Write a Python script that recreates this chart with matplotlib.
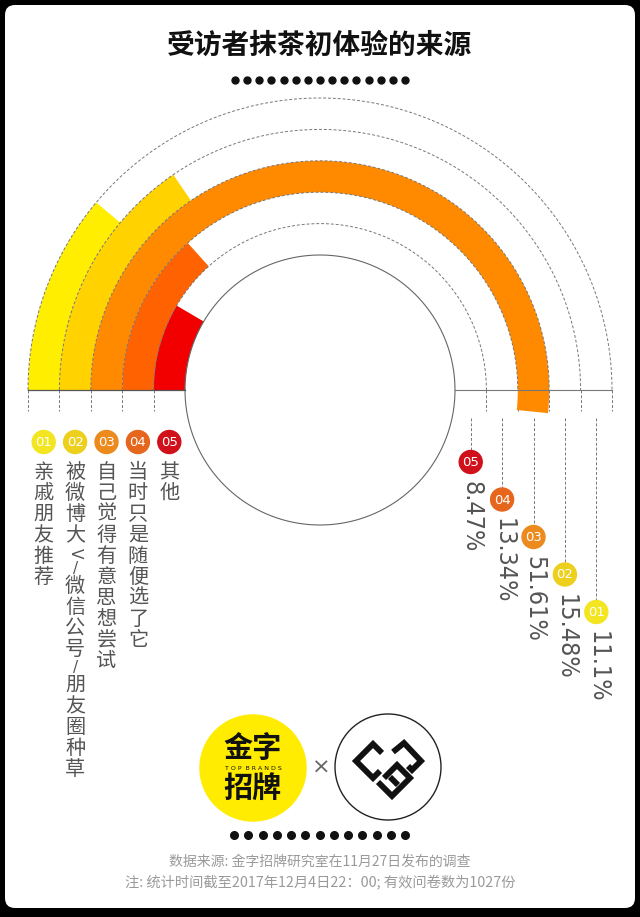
import numpy as np
import matplotlib
matplotlib.use("Agg")
import matplotlib.pyplot as plt
from matplotlib.patches import FancyBboxPatch, Circle
from matplotlib import font_manager as fm

plt.rcParams['font.family'] = ['Noto Sans CJK SC', 'DejaVu Sans']

# ---------------- data ----------------
codes = ["01", "02", "03", "04", "05"]
categories = ["亲戚朋友推荐", "被微博大V/微信公号/朋友圈种草", "自己觉得有意思想尝试",
              "当时只是随便选了它", "其他"]
values = [11.1, 15.48, 51.61, 13.34, 8.47]
value_labels = ["11.1%", "15.48%", "51.61%", "13.34%", "8.47%"]
bar_colors = ["#FFEE00", "#FFD200", "#FF8A00", "#FF6200", "#F20000"]
badge_colors = ["#F3E520", "#EDCF1E", "#EC8A1E", "#E6661E", "#D0101A"]

title = "受访者抹茶初体验的来源"
source1 = "数据来源: 金字招牌研究室在11月27日发布的调查"
source2 = "注: 统计时间截至2017年12月4日22：00; 有效问卷数为1027份"

# ---------------- narrow font for the percentages ----------------
fonts = fm.fontManager.ttflist
names = {f.name for f in fonts}
pct_kw = dict(family=['Liberation Sans', 'DejaVu Sans'], fontsize=17)
if 'Liberation Sans Narrow' in names:
    pct_kw = dict(family=['Liberation Sans Narrow', 'DejaVu Sans'], fontsize=19)
elif any(f.name == 'DejaVu Sans' and str(f.stretch) in ('condensed', 'semi-condensed', '600', '700', '500')
         for f in fonts):
    pct_kw = dict(family=['DejaVu Sans'], fontstretch='condensed', fontsize=18)

# ---------------- layout (pixels) ----------------
W, H = 640, 917
cx, cy = 320, 390
r_inner = 135
ring_w = 31.4
RMAX = 300

fig = plt.figure(figsize=(W / 100, H / 100), dpi=100, facecolor='black')

ov = fig.add_axes([0, 0, 1, 1], zorder=0)
ov.set_xlim(0, W)
ov.set_ylim(H, 0)
ov.axis('off')
ov.patch.set_alpha(0)

ov.add_patch(FancyBboxPatch((5, 5), 630, 903, boxstyle="round,pad=0,rounding_size=10",
                            facecolor='white', edgecolor='none', zorder=0))

pax = fig.add_axes([(cx - RMAX) / W, (H - cy - RMAX) / H, 2 * RMAX / W, 2 * RMAX / H],
                   projection='polar', zorder=1)
pax.set_facecolor('none')
pax.set_theta_zero_location('W')
pax.set_theta_direction(-1)
pax.set_ylim(0, RMAX)
pax.axis('off')

n = len(values)
r_bottoms = [r_inner + (n - 1 - i) * ring_w for i in range(n)]
for i in range(n):
    pax.bar(0, ring_w, width=values[i] / 100 * 2 * np.pi, bottom=r_bottoms[i],
            align='edge', color=bar_colors[i], edgecolor='none', zorder=2)

bounds = [r_inner + k * ring_w for k in range(1, n + 1)]
th = np.linspace(0, np.pi, 500)
for r in bounds:
    pax.plot(th, np.full_like(th, r), ls=(0, (3, 2)), color='#777777', lw=0.7, zorder=3)
th2 = np.linspace(0, 2 * np.pi, 800)
pax.plot(th2, np.full_like(th2, r_inner), color='#666666', lw=0.8, zorder=3)
r_outer = r_inner + n * ring_w
pax.plot([0, 0], [r_inner, r_outer], color='#555555', lw=0.9, zorder=3)
pax.plot([np.pi, np.pi], [r_inner, r_outer], color='#777777', lw=0.8, zorder=3)

for r in bounds:
    for sx in (-1, 1):
        ov.plot([cx + sx * r, cx + sx * r], [cy, cy + 21], ls=(0, (3, 2)),
                color='#777777', lw=0.7, zorder=1)

# ---------------- title & dots ----------------
ov.text(cx, 46, title, ha='center', va='center', fontsize=20, fontweight='bold', color='#111111')
xs_top = np.linspace(235, 405, 15)
ov.plot(xs_top, np.full_like(xs_top, 80), 'o', ms=5, color='#111111', zorder=2)

# ---------------- left labels ----------------
label_color = '#555555'
for i in range(n):
    rmid = r_bottoms[i] + ring_w / 2
    x = cx - rmid
    ov.add_patch(Circle((x, 442), 11.5, color=badge_colors[i], zorder=3))
    ov.text(x, 442.5, codes[i], ha='center', va='center', fontsize=9.5, color='white', zorder=4,
            family=['DejaVu Sans'])
    top = 462
    for ch in categories[i]:
        if ch.isascii():
            h = 15
            rot = -90 if ch.isalpha() else 0
            ov.text(x, top + h / 2, ch, ha='center', va='center', fontsize=11, color=label_color,
                    rotation=rot, family=['DejaVu Sans'], zorder=4)
        else:
            h = 21
            ov.text(x, top + h / 2, ch, ha='center', va='center', fontsize=14.5, color=label_color,
                    fontweight='light', zorder=4)
        top += h

# ---------------- right value labels ----------------
for i in range(n):
    rmid = r_bottoms[i] + ring_w / 2
    x = cx + rmid
    k = n - 1 - i
    yc = 462 + k * 37.5
    ov.plot([x, x], [418, yc - 12], ls=(0, (3, 2)), color='#777777', lw=0.7, zorder=1)
    ov.add_patch(Circle((x, yc), 11.5, color=badge_colors[i], zorder=3))
    ov.text(x, yc + 0.5, codes[i], ha='center', va='center', fontsize=9.5, color='white', zorder=4,
            family=['DejaVu Sans'])
    ov.text(x + 1, yc + 19, value_labels[i], ha='center', va='top', rotation=-90,
            color='#555555', zorder=4, **pct_kw)

# ---------------- logos ----------------
ov.add_patch(Circle((253, 768), 53, color='#FFEC00', zorder=2))
ov.text(253, 748, "金字", ha='center', va='center', fontsize=21, fontweight='bold', color='#111111', zorder=3)
ov.text(253, 768, "T O P  B R A N D S", ha='center', va='center', fontsize=4.5, color='#111111',
        family=['DejaVu Sans'], zorder=3)
ov.text(253, 788, "招牌", ha='center', va='center', fontsize=21, fontweight='bold', color='#111111', zorder=3)
ov.text(321, 768, "×", ha='center', va='center', fontsize=16, color='#666666', family=['DejaVu Sans'])

lx, ly = 388, 767
ov.add_patch(Circle((lx, ly), 53, facecolor='white', edgecolor='#222222', lw=1.0, zorder=2))
paths = [
    [(-6, -14), (-15, -23), (-32, -6), (-15, 11), (-8, 4)],
    [(5, -15), (16, -24), (33, -6), (24, 3), (20, -1)],
    [(-10, 15), (4, 29), (22, 11), (9, -2), (-4, 11)],
    [(2, 10), (10, 18)],
]
for p in paths:
    pxs = [lx + a for a, b in p]
    pys = [ly + b for a, b in p]
    ov.plot(pxs, pys, color='#111111', lw=4.2, solid_joinstyle='miter', solid_capstyle='butt', zorder=3)

xs_bot = np.linspace(234, 405, 13)
ov.plot(xs_bot, np.full_like(xs_bot, 835), 'o', ms=5.5, color='#111111', zorder=2)

ov.text(cx, 862, source1, ha='center', va='center', fontsize=10, color='#9a9a9a')
ov.text(cx, 883, source2, ha='center', va='center', fontsize=10.3, color='#9a9a9a')

fig.savefig("out.png", dpi=100, facecolor='black')
